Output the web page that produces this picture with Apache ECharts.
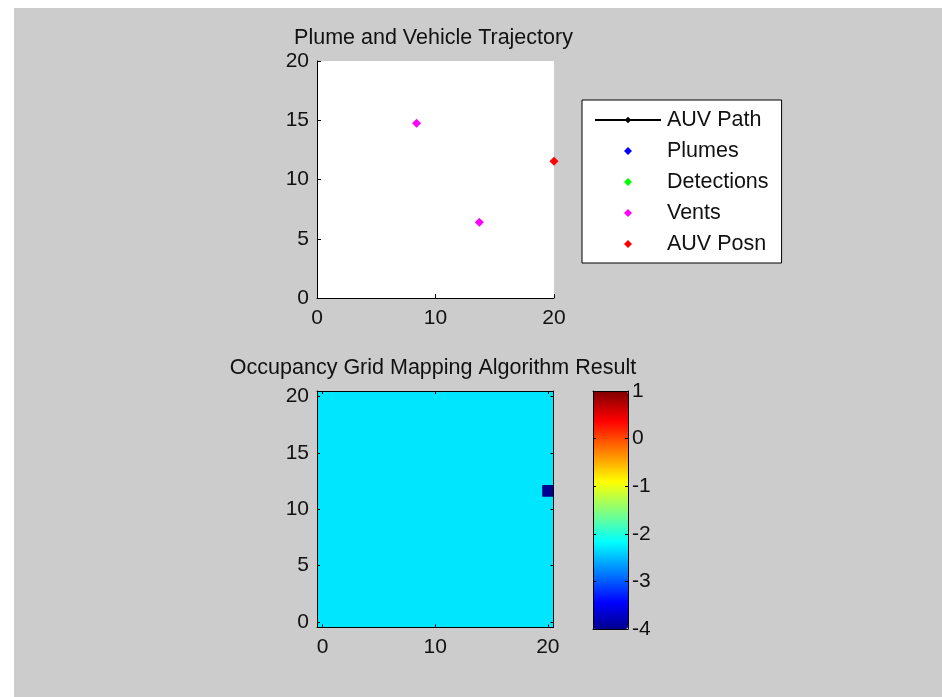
<!DOCTYPE html>
<html><head><meta charset="utf-8">
<script src="https://cdn.jsdelivr.net/npm/echarts@6/dist/echarts.min.js"></script>
<style>
html,body{margin:0;padding:0;background:#fff}
#bg{position:absolute;left:14px;top:8px;width:928px;height:689px;background:#cccccc}
#c{position:absolute;left:0;top:0;width:942px;height:697px}
</style>
</head><body><div id="bg"></div><div id="c"></div>
<script>
// ---- data ----
const legendNames = ['AUV Path', 'Plumes', 'Detections', 'Vents', 'AUV Posn'];
const auvPathX = [], auvPathY = [];
const plumesX = [], plumesY = [];
const detectionsX = [], detectionsY = [];
const ventsX = [8.4, 13.7];
const ventsY = [14.75, 6.4];
const auvPosnX = [20];
const auvPosnY = [11.55];
// occupancy grid result: rectangles [x0, x1, y0, y1] with a log-odds value
const occX0 = [-0.5, 19.5];
const occX1 = [20.5, 20.5];
const occY0 = [-0.5, 11.1];
const occY1 = [20.5, 12.15];
const occValue = [-2.3, -4];
const occXTicks = [0, 10, 20];
const occYTicks = [0, 5, 10, 15, 20];
const cbarMin = -4, cbarMax = 1;
const titles = ['Plume and Vehicle Trajectory', 'Occupancy Grid Mapping Algorithm Result'];

// ---- MATLAB jet colormap ----
function jet(n) {
  const m = Math.ceil(n / 4), u = [];
  for (let i = 1; i <= m; i++) u.push(i / m);
  for (let i = 1; i < m; i++) u.push(1);
  for (let i = m; i >= 1; i--) u.push(i / m);
  const r = new Array(n).fill(0), g = new Array(n).fill(0), b = new Array(n).fill(0);
  const off = Math.ceil(m / 2) - (n % 4 === 1 ? 1 : 0);
  u.forEach((v, k) => {
    const gi = off + k + 1, ri = gi + m, bi = gi - m;
    if (gi >= 1 && gi <= n) g[gi - 1] = v;
    if (ri >= 1 && ri <= n) r[ri - 1] = v;
    if (bi >= 1 && bi <= n) b[bi - 1] = v;
  });
  const h = x => Math.round(x * 255).toString(16).padStart(2, '0');
  return r.map((_, i) => '#' + h(r[i]) + h(g[i]) + h(b[i]));
}

const zip = (xs, ys) => xs.map((x, i) => [x, ys[i]]);
const occData = occValue.map((v, i) => [occX0[i], occX1[i], occY0[i], occY1[i], v]);

const FONT = 'Liberation Sans, Arial, sans-serif';
const TXT = '#111';
const lbl = (extra) => Object.assign({ color: TXT, fontSize: 21, fontFamily: FONT }, extra || {});
const blackLine = { show: true, lineStyle: { color: '#000', width: 1 } };
const scatterStyle = (c) => ({ color: c, itemStyle: { color: c, opacity: 1 }, symbol: 'diamond', symbolSize: 9, clip: false });
// legend marker: a small diamond centred in a 66x8 icon box
const legendDiamond = 'path://M0,4L0,4M66,4L66,4M33,0L37,4L33,8L29,4Z';

const chart = echarts.init(document.getElementById('c'), null, { renderer: 'canvas' });
chart.setOption({
  animation: false,
  backgroundColor: 'transparent',
  graphic: [
    { type: 'text', x: 433.5, y: 38, style: { text: titles[0], fill: TXT, font: '21.5px ' + FONT, textAlign: 'center', textVerticalAlign: 'middle' } },
    { type: 'text', x: 433, y: 368, style: { text: titles[1], fill: TXT, font: '21.5px ' + FONT, textAlign: 'center', textVerticalAlign: 'middle' } }
  ],
  grid: [
    { left: 317, top: 61, width: 237, height: 237, show: true, backgroundColor: '#fff', borderWidth: 0 },
    { left: 317, top: 391, width: 236.5, height: 236.5 },
    { left: 593, top: 391, width: 35, height: 238 }
  ],
  xAxis: [
    { gridIndex: 0, type: 'value', min: 0, max: 20, interval: 10, z: 10,
      axisLine: blackLine, axisTick: { inside: true, length: 4, lineStyle: { color: '#000' } },
      splitLine: { show: false }, axisLabel: lbl({ margin: 10 }) },
    { gridIndex: 1, type: 'value', min: -0.5, max: 20.5, position: 'bottom', z: 10,
      axisLine: Object.assign({ onZero: false }, blackLine),
      axisTick: { inside: true, length: 3, customValues: occXTicks, lineStyle: { color: '#000' } },
      splitLine: { show: false }, axisLabel: lbl({ margin: 9, customValues: occXTicks }) },
    { gridIndex: 1, type: 'value', min: -0.5, max: 20.5, position: 'top', z: 10,
      axisLine: Object.assign({ onZero: false }, blackLine),
      axisTick: { inside: true, length: 3, customValues: occXTicks, lineStyle: { color: '#000' } },
      splitLine: { show: false }, axisLabel: { show: false } },
    { gridIndex: 2, type: 'value', min: 0, max: 1, position: 'bottom', z: 10,
      axisLine: Object.assign({ onZero: false }, blackLine), axisTick: { show: false },
      splitLine: { show: false }, axisLabel: { show: false } },
    { gridIndex: 2, type: 'value', min: 0, max: 1, position: 'top', z: 10,
      axisLine: Object.assign({ onZero: false }, blackLine), axisTick: { show: false },
      splitLine: { show: false }, axisLabel: { show: false } }
  ],
  yAxis: [
    { gridIndex: 0, type: 'value', min: 0, max: 20, interval: 5, z: 10,
      axisLine: blackLine, axisTick: { inside: true, length: 4, lineStyle: { color: '#000' } },
      splitLine: { show: false }, axisLabel: lbl({ margin: 8 }) },
    { gridIndex: 1, type: 'value', min: -0.5, max: 20.5, position: 'left', z: 10,
      axisLine: Object.assign({ onZero: false }, blackLine),
      axisTick: { inside: true, length: 3, customValues: occYTicks, lineStyle: { color: '#000' } },
      splitLine: { show: false }, axisLabel: lbl({ margin: 8, customValues: occYTicks }) },
    { gridIndex: 1, type: 'value', min: -0.5, max: 20.5, position: 'right', z: 10,
      axisLine: Object.assign({ onZero: false }, blackLine),
      axisTick: { inside: true, length: 3, customValues: occYTicks, lineStyle: { color: '#000' } },
      splitLine: { show: false }, axisLabel: { show: false } },
    { gridIndex: 2, type: 'value', min: cbarMin, max: cbarMax, interval: 1, position: 'left', z: 10,
      axisLine: Object.assign({ onZero: false }, blackLine),
      axisTick: { inside: true, length: 3, lineStyle: { color: '#000' } },
      splitLine: { show: false }, axisLabel: { show: false } },
    { gridIndex: 2, type: 'value', min: cbarMin, max: cbarMax, interval: 1, position: 'right', z: 10,
      axisLine: Object.assign({ onZero: false }, blackLine),
      axisTick: { inside: true, length: 3, lineStyle: { color: '#000' } },
      splitLine: { show: false }, axisLabel: lbl({ margin: 4 }) }
  ],
  visualMap: {
    type: 'continuous', min: cbarMin, max: cbarMax, dimension: 4, seriesIndex: 5,
    calculable: false, show: true, left: 593, top: 391, padding: 0,
    itemWidth: 35, itemHeight: 238, text: null, hoverLink: false,
    inRange: { color: jet(64) }, textStyle: { color: 'transparent' }
  },
  legend: {
    orient: 'vertical', left: 582, top: 100,
    padding: [9, 13, 8, 12], itemGap: 9, itemWidth: 66, itemHeight: 8,
    backgroundColor: '#fff', borderColor: '#000', borderWidth: 1, borderRadius: 0,
    selectedMode: false,
    data: [
      { name: legendNames[0] },
      { name: legendNames[1], icon: legendDiamond },
      { name: legendNames[2], icon: legendDiamond },
      { name: legendNames[3], icon: legendDiamond },
      { name: legendNames[4], icon: legendDiamond }
    ],
    textStyle: { color: TXT, fontSize: 21.5, fontFamily: FONT, padding: [0, 0, 0, 1] }
  },
  series: [
    { name: legendNames[0], type: 'line', xAxisIndex: 0, yAxisIndex: 0, data: zip(auvPathX, auvPathY),
      color: '#000', symbol: 'diamond', symbolSize: 6, lineStyle: { color: '#000', width: 1 } },
    Object.assign({ name: legendNames[1], type: 'scatter', xAxisIndex: 0, yAxisIndex: 0, data: zip(plumesX, plumesY) }, scatterStyle('#0000ff')),
    Object.assign({ name: legendNames[2], type: 'scatter', xAxisIndex: 0, yAxisIndex: 0, data: zip(detectionsX, detectionsY) }, scatterStyle('#00ff00')),
    Object.assign({ name: legendNames[3], type: 'scatter', xAxisIndex: 0, yAxisIndex: 0, data: zip(ventsX, ventsY) }, scatterStyle('#ff00ff')),
    Object.assign({ name: legendNames[4], type: 'scatter', xAxisIndex: 0, yAxisIndex: 0, data: zip(auvPosnX, auvPosnY) }, scatterStyle('#ff0000')),
    { name: 'occupancy', type: 'custom', xAxisIndex: 1, yAxisIndex: 1, data: occData, clip: true,
      encode: { x: [0, 1], y: [2, 3] },
      renderItem: function (params, api) {
        const p0 = api.coord([api.value(0), api.value(3)]);
        const p1 = api.coord([api.value(1), api.value(2)]);
        return { type: 'rect', shape: { x: p0[0], y: p0[1], width: p1[0] - p0[0], height: p1[1] - p0[1] },
          style: { fill: api.visual('color') } };
      } }
  ]
});
</script>
</body></html>
